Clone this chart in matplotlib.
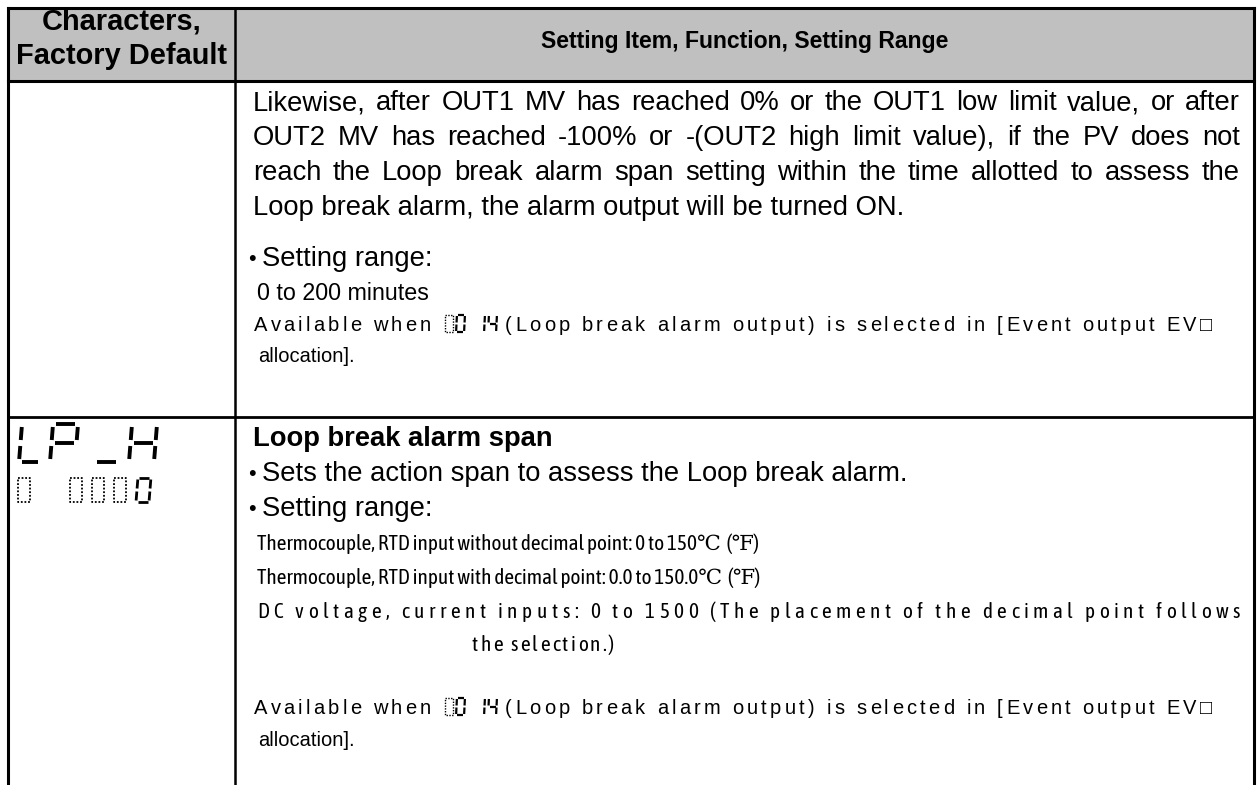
import matplotlib
matplotlib.use('Agg')
import matplotlib.pyplot as plt
from matplotlib import font_manager as fm

# ---------------- content ----------------
header_left = ["Characters,", "Factory Default"]
header_right = "Setting Item, Function, Setting Range"

row1_paragraph = [
    "Likewise, after OUT1 MV has reached 0% or the OUT1 low limit value, or after",
    "OUT2 MV has reached -100% or -(OUT2 high limit value), if the PV does not",
    "reach the Loop break alarm span setting within the time allotted to assess the",
    "Loop break alarm, the alarm output will be turned ON.",
]
row1_range_title = "Setting range:"
row1_range = "0 to 200 minutes"
avail_before = "Available when "
avail_after = "(Loop break alarm output) is selected in [Event output EV\u25a1"
avail_line2 = "allocation]."

row2_chars = "LP_H"
row2_default = "0 0000"
row2_title = "Loop break alarm span"
row2_bullet1 = "Sets the action span to assess the Loop break alarm."
row2_range_title = "Setting range:"
row2_range = [
    "Thermocouple, RTD input without decimal point: 0 to 150\u2103  (\u2109)",
    "Thermocouple, RTD input with decimal point: 0.0 to 150.0\u2103  (\u2109)",
    "DC voltage, current inputs: 0 to 1500 (The placement of the decimal point follows",
]
row2_range_cont = "the selection.)"

# 7-segment segment sets
SEG = {'L': 'def', 'P': 'abefg', '_': 'd', 'H': 'bcefg', '0': 'abcdef',
       '1': 'bc', '4': 'bcfg', ' ': ''}

# ---------------- figure ----------------
W, H = 1260, 785
fig = plt.figure(figsize=(12.6, 7.85), dpi=100)
ax = fig.add_axes([0, 0, 1, 1])
ax.set_xlim(0, W)
ax.set_ylim(H, 0)
ax.axis('off')
R = fig.canvas.get_renderer()

FAM = ['Liberation Sans', 'DejaVu Sans']
FAMS = ['Liberation Sans', 'DejaVu Sans']


def width(t):
    return t.get_window_extent(R).width


def put(x, y, s, size=17, weight='normal', family=FAM, ha='left', stretch='normal'):
    return ax.text(x, y, s, fontsize=size, fontweight=weight, family=family,
                   ha=ha, va='baseline', color='black', fontstretch=stretch)


def fit_size(s, target, weight='normal', family=FAM, base=17.0, stretch='normal'):
    t = put(0, 0, s, size=base, weight=weight, family=family, stretch=stretch)
    w = width(t)
    t.remove()
    return base * target / w


def narrow_candidates():
    found = set()
    for f in fm.fontManager.ttflist:
        if f.style != 'normal' or f.weight not in (400, 'normal', 'regular', 'book'):
            continue
        n = f.name
        if 'Serif' in n or 'Mono' in n or 'CJK' in n:
            continue
        if 'Narrow' in n or 'Condensed' in n:
            found.add((n, 'normal'))
        elif f.stretch in ('condensed', 'semi-condensed'):
            found.add((n, f.stretch))
    found.add(('Liberation Sans', 'normal'))
    return sorted(found)


# choose the condensed face closest to an Arial-Narrow look
best = None
for n, st in narrow_candidates():
    fam = [n, 'DejaVu Serif', 'DejaVu Sans']
    try:
        sz = fit_size(row2_range[1], 505, family=fam, stretch=st)
    except Exception:
        continue
    score = abs(sz - 15.5)
    if best is None or score < best[0]:
        best = (score, n, st, sz)
_, NNAME, NSTRETCH, NARROW_SIZE = best
FAMN = [NNAME, 'DejaVu Serif', 'DejaVu Sans']


def put_justified(x0, x1, y, s, size, family=FAM, stretch='normal'):
    words = s.split(' ')
    ts = [put(0, y, w_, size=size, family=family, stretch=stretch) for w_ in words]
    ws = [width(t) for t in ts]
    gap = (x1 - x0 - sum(ws)) / (len(words) - 1)
    x = x0
    for t, w_ in zip(ts, ws):
        t.set_x(x)
        x += w_ + gap


def prefix_widths(s, kw):
    sent = put(0, 0, '|', **kw)
    ws = width(sent)
    sent.remove()
    pref = []
    for i in range(len(s) + 1):
        t = put(0, 0, s[:i] + '|', **kw)
        pref.append(width(t) - ws)
        t.remove()
    return pref


def put_spaced(x0, y, s, extra, **kw):
    """place characters with 'extra' pixels of added tracking; returns end x"""
    pref = prefix_widths(s, kw)
    for i, ch in enumerate(s):
        if ch != ' ':
            put(x0 + pref[i] + i * extra, y, ch, **kw)
    return x0 + pref[-1] + len(s) * extra


def put_distributed(x0, x1, y, s, size, family=FAM, stretch='normal'):
    kw = dict(size=size, family=family, stretch=stretch)
    pref = prefix_widths(s, kw)
    extra = (x1 - x0 - pref[-1]) / max(len(s) - 1, 1)
    put_spaced(x0, y, s, extra, **kw)


def seg7(x, ytop, w, h, chars, pitch, lw=2.5, slant=0.08, gap=1.5):
    for i, ch in enumerate(chars):
        cx = x + i * pitch
        yb = ytop + h
        ym = ytop + h / 2

        def P(px, py):
            return (px + slant * (yb - py), py)
        lines = {
            'a': (P(cx + gap, ytop), P(cx + w - gap, ytop)),
            'b': (P(cx + w, ytop + gap), P(cx + w, ym - gap)),
            'c': (P(cx + w, ym + gap), P(cx + w, yb - gap)),
            'd': (P(cx + gap, yb), P(cx + w - gap, yb)),
            'e': (P(cx, ym + gap), P(cx, yb - gap)),
            'f': (P(cx, ytop + gap), P(cx, ym - gap)),
            'g': (P(cx + gap, ym), P(cx + w - gap, ym)),
        }
        for s in SEG.get(ch, ''):
            (xa, ya), (xb, yb2) = lines[s]
            ax.plot([xa, xb], [ya, yb2], color='black', lw=lw,
                    solid_capstyle='butt')


def dotbox(x, ytop, w, h, lw=1.3):
    ax.plot([x, x + w, x + w, x, x], [ytop, ytop, ytop + h, ytop + h, ytop],
            color='black', lw=lw, linestyle=(0, (1, 1)))


def inline_code(x, ybase, hh=17):
    ytop = ybase - hh + 1
    dotbox(x, ytop, 8, hh, lw=1.0)
    seg7(x + 11, ytop, 8, hh, '0', 13, lw=1.6, slant=0.05, gap=1.0)
    seg7(x + 31, ytop, 8, hh, '14', 12, lw=1.6, slant=0.05, gap=1.0)
    return x + 58


# font sizes fitted to widths measured on the reference
BODY = fit_size(row1_paragraph[3], 652)
HEAD = fit_size(header_left[1], 212, weight='bold')
HEAD_R = fit_size(header_right, 410, weight='bold')
SMALL = 14.5
MIN_SIZE = fit_size(row1_range, 172)


def avail_line(x0, y, x_end):
    kw = dict(size=SMALL, family=FAMS)
    pb = prefix_widths(avail_before, kw)[-1]
    pa = prefix_widths(avail_after, kw)[-1]
    n = len(avail_before) + len(avail_after)
    extra = (x_end - x0 - 62 - pb - pa) / n
    xg = put_spaced(x0, y, avail_before, extra, **kw)
    xe = inline_code(xg + 2, y)
    put_spaced(xe + 2, y, avail_after, extra, **kw)


# ---------------- table frame ----------------
L, RGT, TOP, HB, COL, ROWDIV = 8, 1254, 8, 81, 235, 417
ax.fill_between([L, RGT], TOP, HB, color='#c0c0c0', zorder=0, lw=0)
kw = dict(color='black', solid_capstyle='projecting')
ax.plot([L, RGT], [TOP, TOP], lw=2.2, **kw)
ax.plot([L, RGT], [HB, HB], lw=2.2, **kw)
ax.plot([L, RGT], [ROWDIV, ROWDIV], lw=2.0, **kw)
ax.plot([L, L], [TOP, H + 5], lw=2.2, **kw)
ax.plot([RGT, RGT], [TOP, H + 5], lw=2.2, **kw)
ax.plot([COL, COL], [TOP, H + 5], lw=1.8, **kw)

# ---------------- header ----------------
put((L + COL) / 2, 30, header_left[0], size=HEAD, weight='bold', ha='center')
put((L + COL) / 2, 64, header_left[1], size=HEAD, weight='bold', ha='center')
put((COL + RGT) / 2, 48, header_right, size=HEAD_R, weight='bold', ha='center')

# ---------------- row 1 ----------------
TX0, TX1 = 253, 1240
ys1 = [110, 145, 180, 215]
for i, line in enumerate(row1_paragraph):
    if i < 3:
        put_justified(TX0, TX1, ys1[i], line, BODY)
    else:
        put(TX0, ys1[i], line, size=BODY)

put(248, 265, "\u2022", size=BODY * 0.8)
put(262, 266, row1_range_title, size=BODY)
put(257, 300, row1_range, size=MIN_SIZE)

avail_line(254, 331, 1215)
put(258, 362, avail_line2, size=SMALL, family=FAMS)

# ---------------- row 2 ----------------
seg7(19, 424, 22, 38, row2_chars[0], 0, lw=2.8, gap=3)
seg7(50, 424, 25, 38, row2_chars[1], 0, lw=2.8, gap=3)
seg7(94, 424, 25, 38, row2_chars[2], 0, lw=2.8, gap=3)
seg7(129, 424, 25, 38, row2_chars[3], 0, lw=2.8, gap=3)
dotbox(18, 478, 12, 24)
for k in range(3):
    dotbox(70 + 22 * k, 478, 12, 24)
seg7(136, 478, 13, 24, '0', 17, lw=2.0, slant=0.08, gap=1.5)

put(TX0, 446, row2_title, size=BODY, weight='bold')
put(248, 480, "\u2022", size=BODY * 0.8)
put(262, 481, row2_bullet1, size=BODY)
put(248, 515, "\u2022", size=BODY * 0.8)
put(262, 516, row2_range_title, size=BODY)
put(257, 550, row2_range[0], size=NARROW_SIZE, family=FAMN, stretch=NSTRETCH)
put(257, 584, row2_range[1], size=NARROW_SIZE, family=FAMN, stretch=NSTRETCH)
put_distributed(257, TX1, 618, row2_range[2], NARROW_SIZE, family=FAMN, stretch=NSTRETCH)
put_distributed(472, 614, 651, row2_range_cont, NARROW_SIZE, family=FAMN, stretch=NSTRETCH)

avail_line(254, 714, 1215)
put(258, 746, avail_line2, size=SMALL, family=FAMS)

fig.savefig('out.png', dpi=100)
